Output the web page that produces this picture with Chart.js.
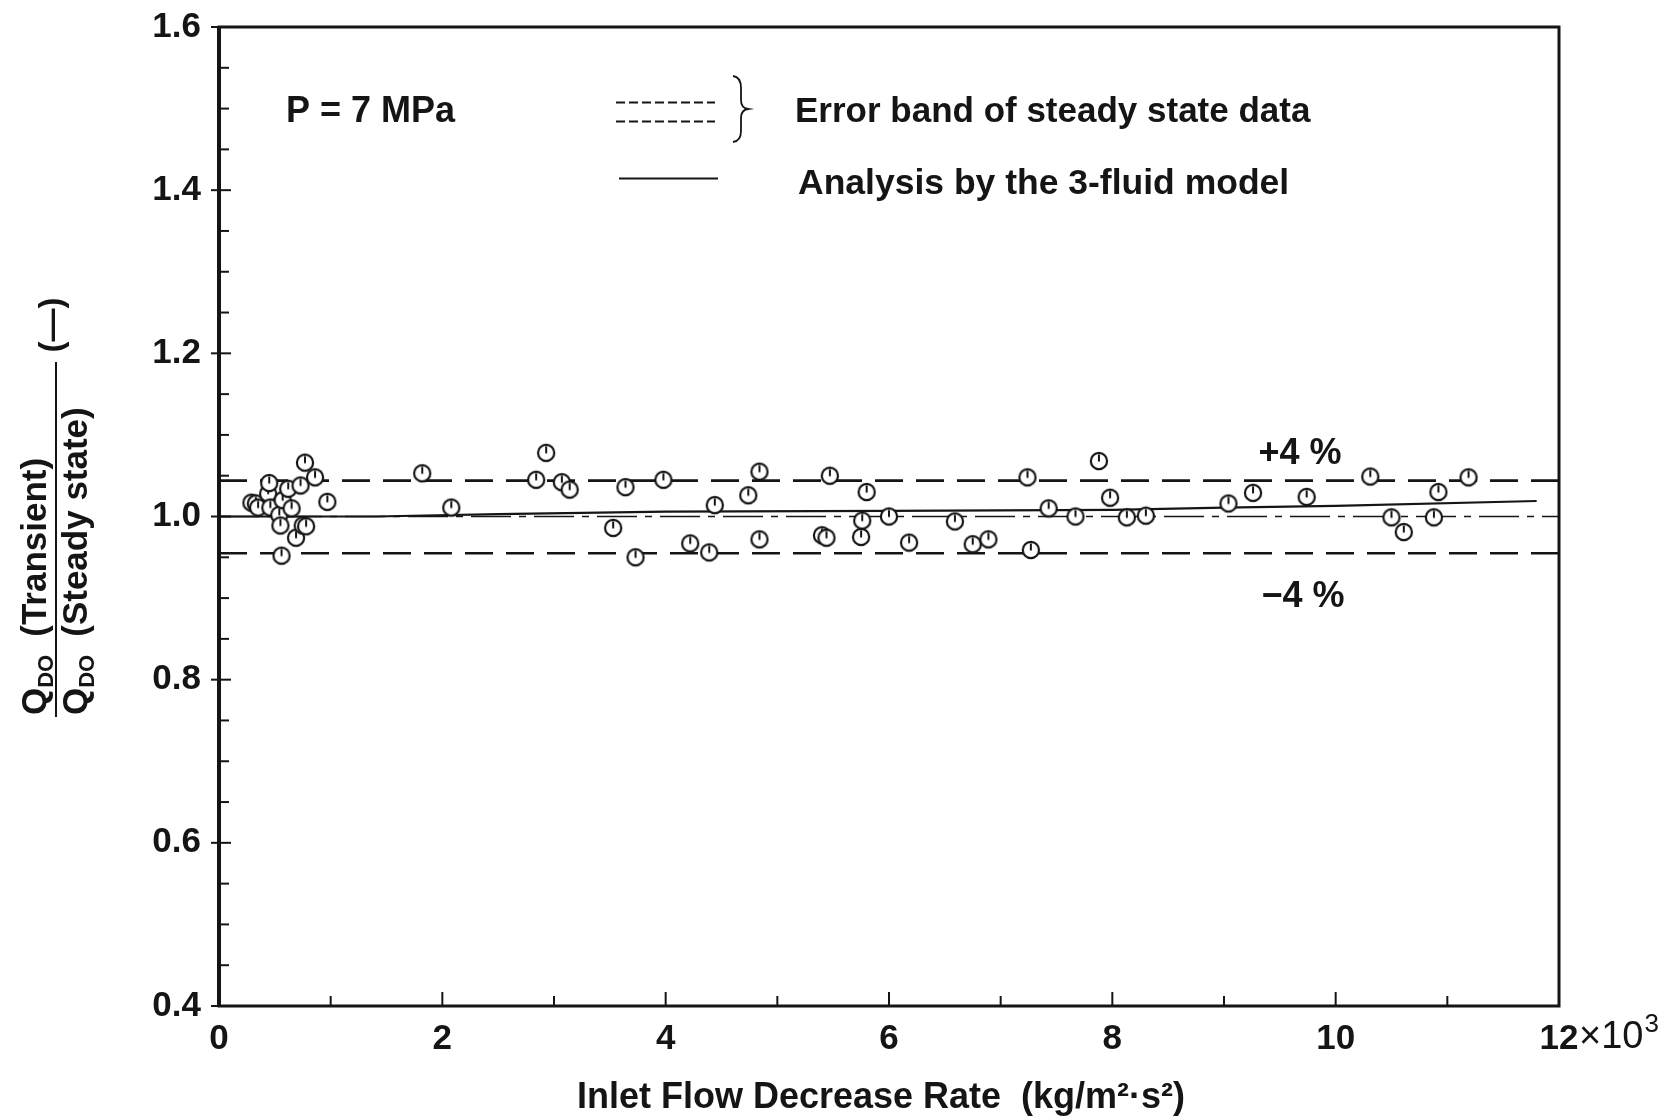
<!DOCTYPE html>
<html>
<head>
<meta charset="utf-8">
<script src="https://cdn.jsdelivr.net/npm/chart.js@4.4.1/dist/chart.umd.min.js"></script>
<style>
  html, body { margin: 0; padding: 0; background: #fff; }
  #wrap { width: 1674px; height: 1120px; }
</style>
</head>
<body>
<div id="wrap"><canvas id="chartDryout" width="1674" height="1120"></canvas></div>
<script>
//* DATOS (x in 10^3 kg/m2.s2)
const flowRate = [0.29, 0.33, 0.35, 0.44, 0.45, 0.46, 0.54, 0.55, 0.56, 0.57, 0.62, 0.65, 0.69, 0.73, 0.75, 0.78, 0.77, 0.86, 0.97,
    1.82, 2.08, 2.84, 2.93, 3.07, 3.14, 3.53, 3.64, 3.73, 3.98, 4.22, 4.39, 4.44, 4.74, 4.84, 4.84,
    5.40, 5.44, 5.47, 5.75, 5.76, 5.80, 6.00, 6.18, 6.59, 6.75, 6.89, 7.24, 7.27, 7.43, 7.67, 7.88,
    7.98, 8.13, 8.30, 9.04, 9.26, 9.74, 10.31, 10.50, 10.61, 10.88, 10.92, 11.19];
const qRatio = [1.017, 1.016, 1.011, 1.028, 1.041, 1.011, 1.002, 0.989, 0.952, 1.020, 1.034, 1.010, 0.974, 1.038, 0.989, 0.988, 1.066, 1.048, 1.018,
    1.053, 1.011, 1.045, 1.078, 1.042, 1.033, 0.986, 1.036, 0.950, 1.045, 0.967, 0.956, 1.014, 1.026, 1.055, 0.972,
    0.977, 0.974, 1.050, 0.975, 0.995, 1.030, 1.000, 0.968, 0.994, 0.966, 0.972, 1.048, 0.959, 1.010, 1.000, 1.068,
    1.023, 0.999, 1.001, 1.016, 1.029, 1.024, 1.049, 0.999, 0.981, 0.999, 1.030, 1.048];

const analysisX = [0, 1.4, 2.5, 4, 6, 8, 9, 10, 11.8];
const analysisY = [1.0, 1.0, 1.003, 1.006, 1.007, 1.008, 1.011, 1.013, 1.019];

const bandX = [0, 12];
const upperBand = [1.044, 1.044];
const lowerBand = [0.955, 0.955];
const unityLine = [1.0, 1.0];

const xTickValues = [0, 2, 4, 6, 8, 10, 12];
const yTickValues = [0.4, 0.6, 0.8, 1.0, 1.2, 1.4, 1.6];

const toPoints = (xs, ys) => xs.map((x, i) => ({ x: x, y: ys[i] }));

//* MARCADOR
const CrearMarcador = () => {
    const c = document.createElement('canvas');
    c.width = 22; c.height = 22;
    const g = c.getContext('2d');
    g.fillStyle = '#fff';
    g.strokeStyle = '#151515';
    g.lineWidth = 2.2;
    g.beginPath(); g.arc(11, 11, 8.1, 0, Math.PI * 2); g.fill(); g.stroke();
    g.lineWidth = 2;
    g.beginPath(); g.moveTo(11, 11.5); g.lineTo(11, 4.5); g.stroke();
    return c;
};
const marcador = CrearMarcador();

const FONT = '"Liberation Sans", Arial, sans-serif';
const INK = '#151515';

//* PLUGIN: marco, ticks, textos
const decoraciones = {
    id: 'decoraciones',
    afterDatasetsDraw(chart) {
        const { ctx, chartArea: a, scales } = chart;
        const xs = scales.x, ys = scales.y;
        ctx.save();
        ctx.strokeStyle = INK;
        ctx.lineCap = 'butt';

        // marco
        ctx.lineWidth = 3;
        ctx.strokeRect(a.left, a.top, a.right - a.left, a.bottom - a.top);
        ctx.lineWidth = 4;
        ctx.beginPath(); ctx.moveTo(a.left, a.top - 1); ctx.lineTo(a.left, a.bottom + 1); ctx.stroke();

        // ticks eje y (cada 0.05)
        ctx.lineWidth = 2;
        for (let i = 0; i <= 24; i++) {
            const v = 0.4 + i * 0.05;
            const py = ys.getPixelForValue(v);
            const major = i % 4 === 0;
            ctx.beginPath();
            ctx.moveTo(a.left - (major ? 8 : 0), py);
            ctx.lineTo(a.left + (major ? 12 : 10), py);
            ctx.stroke();
        }
        // ticks eje x (cada 1)
        for (let i = 0; i <= 12; i++) {
            const px = xs.getPixelForValue(i);
            const major = i % 2 === 0;
            ctx.beginPath();
            ctx.moveTo(px, a.bottom);
            ctx.lineTo(px, a.bottom - (major ? 14 : 10));
            ctx.stroke();
        }

        ctx.fillStyle = INK;
        ctx.textBaseline = 'alphabetic';

        // x10^3
        const p12 = xs.getPixelForValue(12);
        ctx.font = '38px ' + FONT;
        ctx.textAlign = 'left';
        const baseX = a.bottom + 42;
        ctx.fillText('\u00D710', p12 + 20, baseX);
        const w10 = ctx.measureText('\u00D710').width;
        ctx.font = '26px ' + FONT;
        ctx.fillText('3', p12 + 21 + w10, baseX - 16);

        // titulo eje x
        ctx.font = 'bold 36px ' + FONT;
        ctx.textAlign = 'center';
        ctx.fillText('Inlet Flow Decrease Rate  (kg/m\u00B2\u00B7s\u00B2)', 881, 1108);

        // titulo eje y (fraccion rotada)
        ctx.save();
        ctx.translate(56, 717);
        ctx.rotate(-Math.PI / 2);
        ctx.textAlign = 'left';
        ctx.lineWidth = 2;
        ctx.beginPath(); ctx.moveTo(0, 0); ctx.lineTo(355, 0); ctx.stroke();
        const fraccion = (base, texto) => {
            ctx.font = 'bold 35px ' + FONT;
            ctx.fillText('Q', 2, base);
            const wq = ctx.measureText('Q').width;
            ctx.font = 'bold 22px ' + FONT;
            ctx.fillText('DO', 2 + wq, base + 7);
            const wd = ctx.measureText('DO').width;
            ctx.font = 'bold 35px ' + FONT;
            ctx.fillText(texto, 2 + wq + wd + 18, base);
        };
        fraccion(-10, '(Transient)');
        fraccion(31, '(Steady state)');
        ctx.font = 'bold 33px ' + FONT;
        ctx.textAlign = 'center';
        ctx.fillText('(\u2014)', 392, 6);
        ctx.restore();

        // anotaciones
        ctx.font = 'bold 36px ' + FONT;
        ctx.textAlign = 'left';
        ctx.fillText('P = 7 MPa', 286, 122);
        ctx.font = 'bold 36px ' + FONT;
        ctx.textAlign = 'center';
        ctx.fillText('+4 %', 1300, 464);
        ctx.fillText('\u22124 %', 1303, 607);

        // leyenda
        ctx.lineWidth = 1.8;
        ctx.setLineDash([9, 4]);
        ctx.beginPath(); ctx.moveTo(616, 102.5); ctx.lineTo(715, 102.5); ctx.stroke();
        ctx.beginPath(); ctx.moveTo(616, 121.5); ctx.lineTo(715, 121.5); ctx.stroke();
        ctx.setLineDash([]);
        ctx.lineWidth = 1.8;
        ctx.beginPath(); ctx.moveTo(619, 178.5); ctx.lineTo(718, 178.5); ctx.stroke();
        // llave
        ctx.lineWidth = 1.8;
        ctx.beginPath();
        ctx.moveTo(733, 76);
        ctx.quadraticCurveTo(741, 77, 741, 88);
        ctx.lineTo(741, 100);
        ctx.quadraticCurveTo(741, 108, 748, 109);
        ctx.quadraticCurveTo(741, 110, 741, 118);
        ctx.lineTo(741, 131);
        ctx.quadraticCurveTo(741, 141, 733, 142);
        ctx.stroke();

        ctx.font = 'bold 35px ' + FONT;
        ctx.textAlign = 'left';
        ctx.fillText('Error band of steady state data', 795, 122);
        ctx.font = 'bold 35.5px ' + FONT;
        ctx.fillText('Analysis by the 3-fluid model', 798, 194);
        ctx.restore();
    }
};

new Chart(document.getElementById('chartDryout'), {
    type: 'scatter',
    data: {
        datasets: [{
            label: 'Data',
            data: toPoints(flowRate, qRatio),
            pointStyle: marcador,
            pointRadius: 9,
            pointHoverRadius: 9
        }, {
            label: 'Analysis by the 3-fluid model',
            data: toPoints(analysisX, analysisY),
            showLine: true,
            borderColor: INK,
            borderWidth: 2.2,
            pointRadius: 0
        }, {
            label: 'Error band +',
            data: toPoints(bandX, upperBand),
            showLine: true,
            borderColor: INK,
            borderWidth: 2.6,
            borderDash: [28, 13],
            pointRadius: 0
        }, {
            label: 'Error band -',
            data: toPoints(bandX, lowerBand),
            showLine: true,
            borderColor: INK,
            borderWidth: 2.6,
            borderDash: [28, 13],
            pointRadius: 0
        }, {
            label: 'Unity',
            data: toPoints(bandX, unityLine),
            showLine: true,
            borderColor: INK,
            borderWidth: 1.6,
            borderDash: [40, 8, 7, 8],
            pointRadius: 0
        }]
    },
    options: {
        responsive: false,
        animation: false,
        devicePixelRatio: 1,
        layout: { padding: { left: 0, top: 27, right: 115, bottom: 0 } },
        plugins: {
            legend: { display: false },
            tooltip: { enabled: false }
        },
        scales: {
            x: {
                type: 'linear',
                min: 0, max: 12,
                afterFit: (scale) => { scale.height = 114; scale.paddingLeft = 0; scale.paddingRight = 0; },
                afterBuildTicks: (scale) => { scale.ticks = xTickValues.map(v => ({ value: v })); },
                grid: { display: false, drawTicks: false },
                border: { display: false },
                ticks: {
                    color: INK,
                    padding: 12,
                    maxRotation: 0,
                    font: { family: FONT, size: 35, weight: 'bold' },
                    callback: (v) => String(v)
                }
            },
            y: {
                type: 'linear',
                min: 0.4, max: 1.6,
                afterFit: (scale) => { scale.width = 219; scale.paddingTop = 0; scale.paddingBottom = 0; },
                afterBuildTicks: (scale) => { scale.ticks = yTickValues.map(v => ({ value: v })); },
                grid: { display: false, drawTicks: false },
                border: { display: false },
                ticks: {
                    color: INK,
                    padding: 18,
                    font: { family: FONT, size: 35, weight: 'bold' },
                    callback: (v) => Number(v).toFixed(1)
                }
            }
        }
    },
    plugins: [decoraciones]
});
</script>
</body>
</html>
